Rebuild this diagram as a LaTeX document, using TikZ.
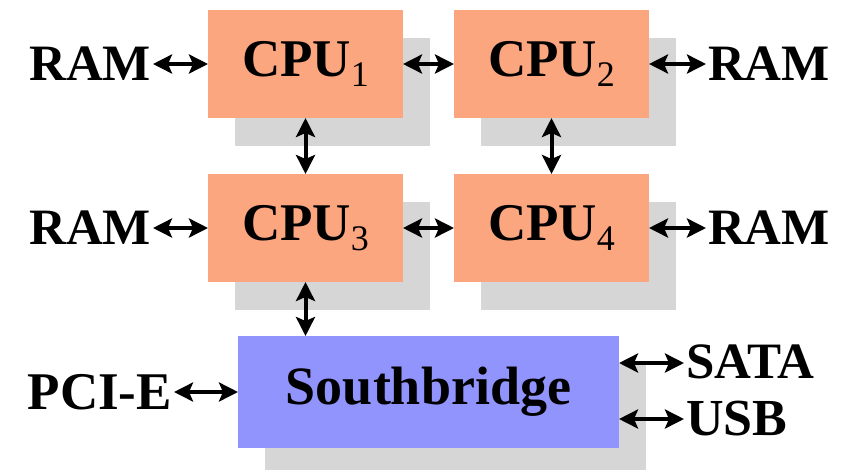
\documentclass[tikz,border=0pt]{standalone}
\usepackage{fontspec}
\setmainfont{Liberation Serif}
\usetikzlibrary{arrows.meta,shadows}
\definecolor{cpuorange}{RGB}{252,166,128}
\definecolor{sbblue}{RGB}{144,148,252}
\definecolor{shadowgray}{RGB}{214,214,214}
\newcommand{\cpusub}[1]{\raisebox{-0.2em}{\fontsize{36}{36}\selectfont\mdseries #1}}
\tikzset{
  unit/.style={inner sep=0pt, outer sep=0pt,
    general shadow={fill=shadowgray, shadow xshift=27pt, shadow yshift=-28pt}},
  cpu/.style={unit, fill=cpuorange, minimum width=195pt, minimum height=108pt,
    font=\fontsize{53}{53}\selectfont\bfseries},
  sb/.style={unit, fill=sbblue, minimum width=381pt, minimum height=112pt,
    font=\fontsize{54}{54}\selectfont\bfseries},
  lbl/.style={inner sep=2pt, outer sep=0pt, font=\fontsize{51}{51}\selectfont\bfseries},
  tip/.tip={Stealth[length=19pt,width=19pt,inset=4pt]},
  conn/.style={line width=4pt, arrows={tip-tip}}
}
\begin{document}
\begin{tikzpicture}[x=1pt,y=-1pt]
\useasboundingbox (0,0) rectangle (853,469);
\node[cpu] (c1) at (305.5,64) {CPU\cpusub{1}};
\node[cpu] (c2) at (551.5,64) {CPU\cpusub{2}};
\node[cpu] (c3) at (305.5,228) {CPU\cpusub{3}};
\node[cpu] (c4) at (551.5,228) {CPU\cpusub{4}};
\node[sb] (sb) at (428.5,392) {Southbridge};
\node[lbl, anchor=east] (r1) at (153,64) {RAM};
\node[lbl, anchor=west] (r2) at (706,64) {RAM};
\node[lbl, anchor=east] (r3) at (153,228) {RAM};
\node[lbl, anchor=west] (r4) at (706,228) {RAM};
\node[lbl, anchor=east, font=\fontsize{53}{53}\selectfont\bfseries] (pci) at (174,392) {PCI-E};
\node[lbl, anchor=west] (sata) at (684,362) {SATA};
\node[lbl, anchor=west, font=\fontsize{52}{52}\selectfont\bfseries] (usb) at (684,419) {USB};
\coordinate (sataend) at (619,363);
\coordinate (usbend) at (619,419);
\draw[conn] (r1.east) -- (c1.west);
\draw[conn] (c1.east) -- (c2.west);
\draw[conn] (c2.east) -- (r2.west);
\draw[conn] (r3.east) -- (c3.west);
\draw[conn] (c3.east) -- (c4.west);
\draw[conn] (c4.east) -- (r4.west);
\draw[conn] (c1.south) -- (c3.north);
\draw[conn] (c2.south) -- (c4.north);
\draw[conn] (c3.south) -- (c3.south |- sb.north);
\draw[conn] (pci.east) -- (sb.west);
\draw[conn] (sataend) -- (sata.west |- sataend);
\draw[conn] (usbend) -- (usb.west |- usbend);
\end{tikzpicture}
\end{document}
